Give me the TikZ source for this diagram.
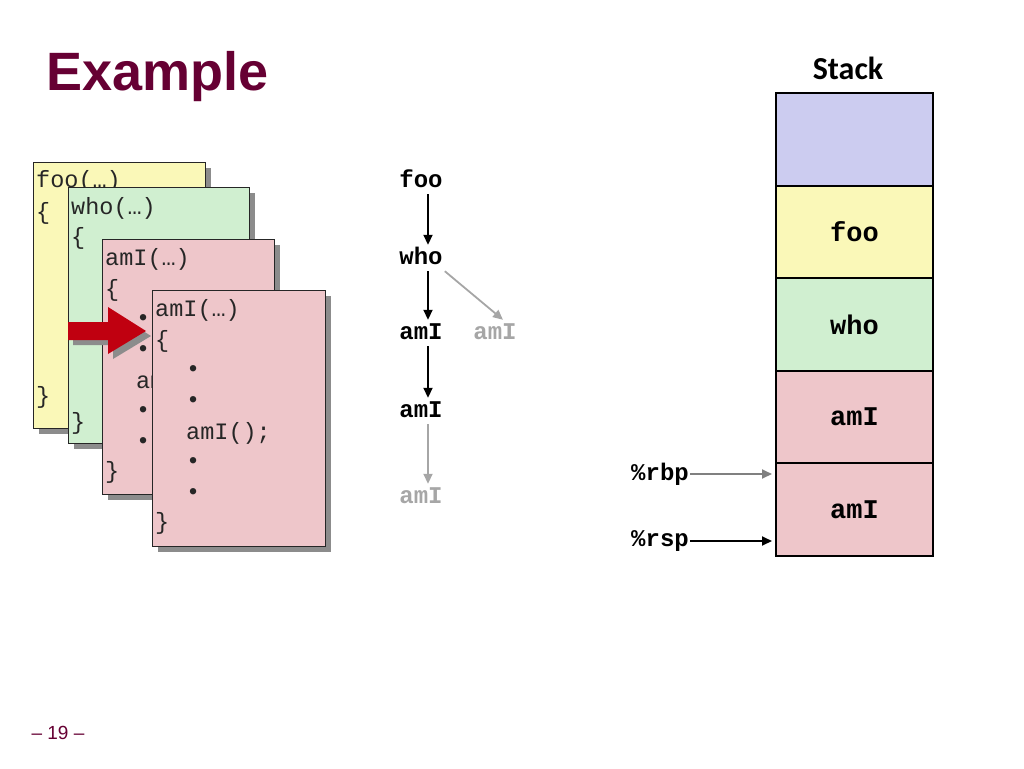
\documentclass[tikz,border=0pt]{standalone}
\usepackage{fontspec}
\setmainfont{Liberation Sans}
\newfontfamily\codefont{Liberation Mono}
\newfontfamily\headfont{Carlito}
\usetikzlibrary{arrows.meta,positioning,shadows}
\definecolor{Maroon}{HTML}{660033}
\definecolor{StackBlue}{HTML}{CCCCF0}
\definecolor{FooYellow}{HTML}{FAF8B8}
\definecolor{WhoGreen}{HTML}{D0EFD0}
\definecolor{AmIPink}{HTML}{EEC6CA}
\definecolor{ArrowRed}{HTML}{C00010}
\definecolor{Faded}{HTML}{A6A6A6}
\newcommand{\amIlines}[1]{%
  \foreach \dx/\dy/\txt [count=\i] in {3/20/amI(…),3/51/\{,34/80/•,34/111/•,34/143/amI();,34/172/•,34/203/•,3/233/\}}
    \node[code] (#1-\i) at ([shift={(\dx,\dy)}]#1.north west) {\txt};}

\begin{document}
\begin{tikzpicture}[x=1pt,y=-1pt,
  card/.style={draw=black!85,line width=1.2pt,anchor=north west,inner sep=0pt,
    drop shadow={shadow xshift=5pt,shadow yshift=-5pt,fill=black!45,opacity=1}},
  code/.style={anchor=west,inner sep=0pt,text=black!85,
    font=\codefont\fontsize{23.5}{28}\selectfont,text height=12pt,text depth=0pt},
  call/.style={font=\codefont\bfseries\fontsize{24}{28}\selectfont,
    inner xsep=2pt,inner ysep=5pt,text height=14pt,text depth=2pt},
  callarrow/.style={line width=1.8pt,-{Triangle[length=10pt,width=9pt]}},
  frame/.style={draw,line width=2pt,outer sep=0pt,minimum width=157pt,minimum height=92.6pt,
    font=\codefont\bfseries\fontsize{27}{30}\selectfont},
  reg/.style={anchor=east,inner sep=1pt,font=\codefont\bfseries\fontsize{24}{28}\selectfont}]
  \useasboundingbox (0,0) rectangle (1024,768);

  \node[anchor=base west,inner sep=0pt,text=Maroon,font=\bfseries\fontsize{54}{60}\selectfont] (title) at (46,90) {Example};
  \node[text=Maroon,font=\fontsize{19}{22}\selectfont] (pagenum) at (58,733) {– 19 –};

  % code cards
  \node[card,fill=FooYellow,minimum width=172pt,minimum height=266pt] (foocard) at (33,162) {};
  \node[code] (foocard-1) at ([shift={(3,19)}]foocard.north west) {foo(…)};
  \node[code] (foocard-2) at ([shift={(3,51)}]foocard.north west) {\{};
  \node[code] (foocard-3) at ([shift={(3,235)}]foocard.north west) {\}};

  \node[card,fill=WhoGreen,minimum width=181pt,minimum height=256pt] (whocard) at (68,187) {};
  \node[code] (whocard-1) at ([shift={(3,21)}]whocard.north west) {who(…)};
  \node[code] (whocard-2) at ([shift={(3,51)}]whocard.north west) {\{};
  \node[code] (whocard-3) at ([shift={(3,236)}]whocard.north west) {\}};

  \node[card,fill=AmIPink,minimum width=172pt,minimum height=255pt] (amIcard) at (102,239) {};
  \amIlines{amIcard}

  \fill[ArrowRed,drop shadow={shadow xshift=5pt,shadow yshift=-5pt,fill=black!45,opacity=1}]
    (68,322) -- (108,322) -- (108,307) -- (146,331) -- (108,354) -- (108,340) -- (68,340) -- cycle;

  \node[card,fill=AmIPink,minimum width=173pt,minimum height=256pt] (amIcall) at (152,290) {};
  \amIlines{amIcall}

  % call tree
  \node[call] (callfoo) at (421,181) {foo};
  \node[call] (callwho) at (421,258) {who};
  \node[call] (callami) at (421,333) {amI};
  \node[call,text=Faded] (callside) at (495,333) {amI};
  \node[call] (callamib) at (421,411) {amI};
  \node[call,text=Faded] (callamic) at (421,497) {amI};
  \draw[callarrow] ([xshift=7pt]callfoo.south) -- ([xshift=7pt]callwho.north);
  \draw[callarrow] ([xshift=7pt]callwho.south) -- ([xshift=7pt]callami.north);
  \draw[callarrow] ([xshift=7pt]callami.south) -- ([xshift=7pt]callamib.north);
  \draw[callarrow,Faded] ([xshift=7pt]callamib.south) -- ([xshift=7pt]callamic.north);
  \draw[callarrow,Faded] (callwho.south east) -- ([xshift=8pt]callside.north);

  % stack
  \node[font=\headfont\bfseries\fontsize{32}{36}\selectfont] (stacktitle) at (848,68) {Stack};
  \node[frame,fill=StackBlue] (stacktop) at (854.5,139.3) {};
  \node[frame,fill=FooYellow,below=0pt of stacktop] (stackfoo) {foo};
  \node[frame,fill=WhoGreen,below=0pt of stackfoo] (stackwho) {who};
  \node[frame,fill=AmIPink,below=0pt of stackwho] (stackami) {amI};
  \node[frame,fill=AmIPink,below=0pt of stackami] (stackamib) {amI};

  \node[reg] (rbp) at (690,474) {\%rbp};
  \node[reg] (rsp) at (690,541) {\%rsp};
  \coordinate (rbpend) at (772,474);
  \coordinate (rspend) at (772,541);
  \draw[callarrow,black!50] (rbp) -- (rbpend);
  \draw[callarrow] (rsp) -- (rspend);
\end{tikzpicture}
\end{document}
